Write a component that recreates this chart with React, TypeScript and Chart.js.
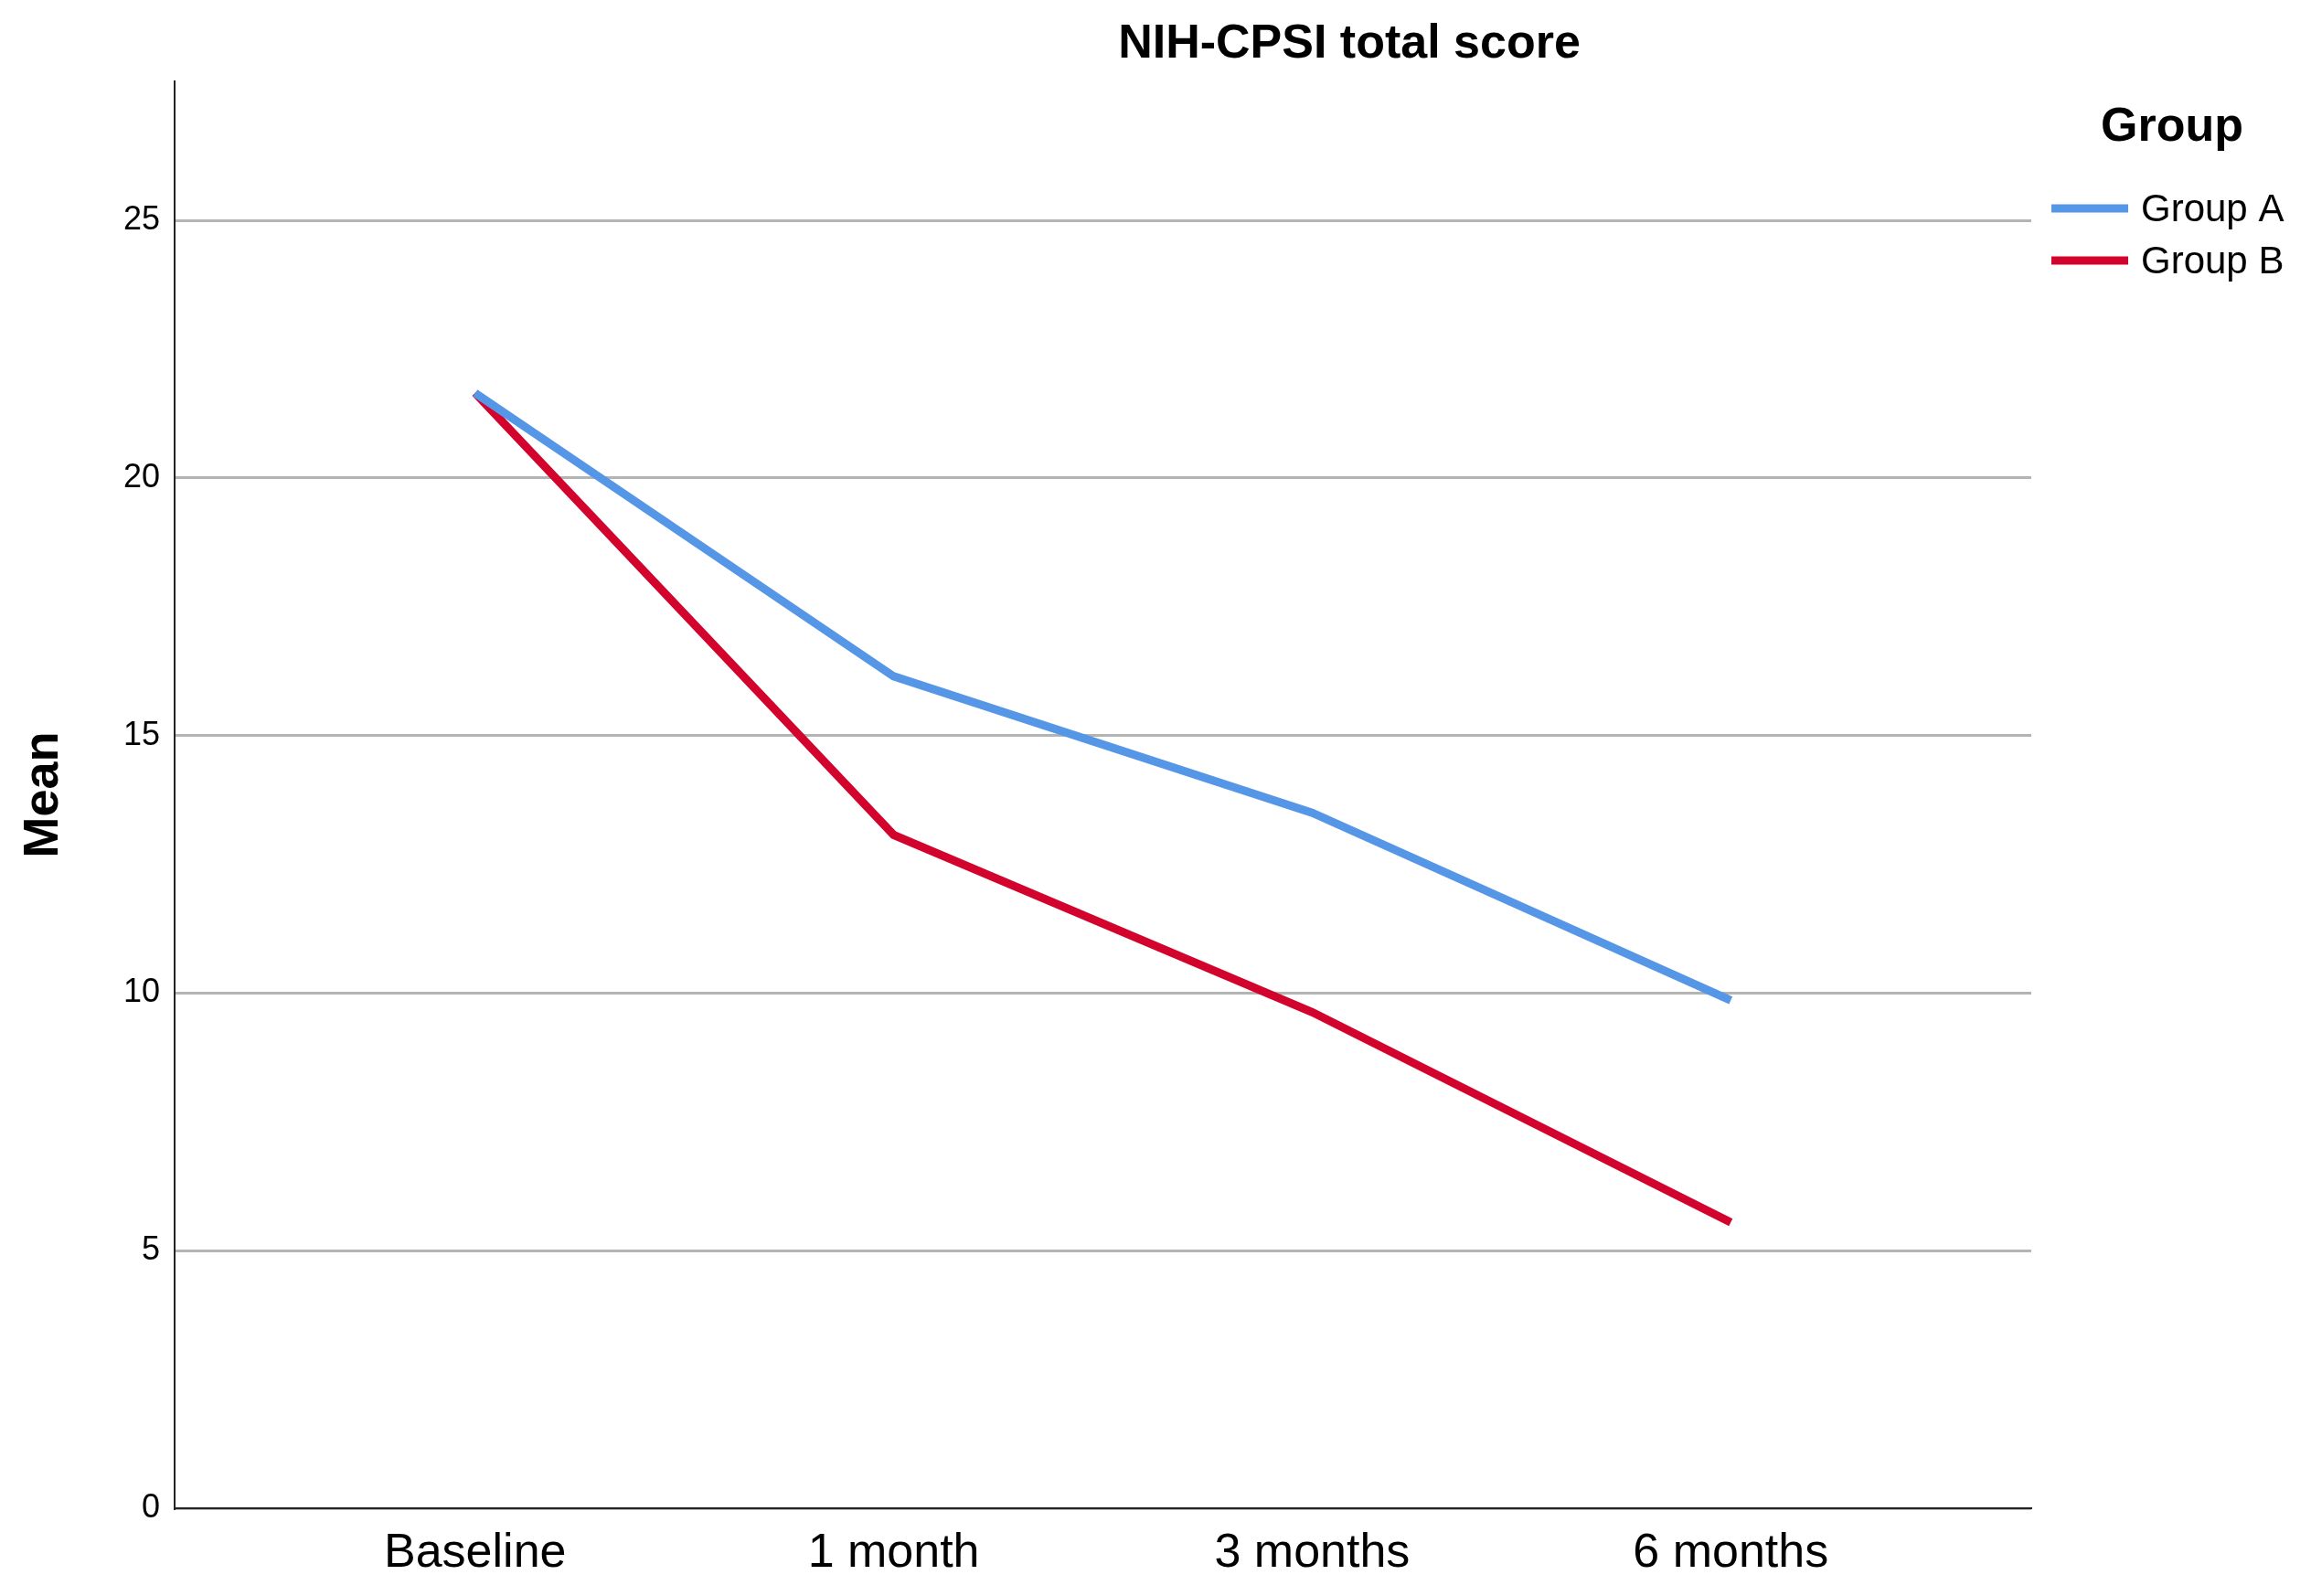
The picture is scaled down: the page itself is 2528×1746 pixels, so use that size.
import React, { useEffect, useRef } from "react";
import { Chart, registerables } from "chart.js";
Chart.register(...registerables);

const categories = ["Baseline", "1 month", "3 months", "6 months"];
const groupA = [21.65, 16.15, 13.5, 9.86];
const groupB = [21.65, 13.07, 9.63, 5.55];
const seriesNames = ["Group A", "Group B"];
const colors = ["#5596E6", "#D2042D"];

export default function App() {
  const ref = useRef<HTMLCanvasElement>(null);
  useEffect(() => {
    const overlay = {
      id: "overlay",
      afterDraw(chart: any) {
        const c = chart.ctx;
        c.save();
        c.fillStyle = "#000";
        c.font = "bold 52px Arial, 'Liberation Sans'";
        c.textAlign = "center";
        c.textBaseline = "middle";
        c.fillText("NIH-CPSI total score", 1476, 49);
        c.fillText("Group", 2376, 140);
        c.font = "42px Arial, 'Liberation Sans'";
        c.textAlign = "left";
        seriesNames.forEach((n, i) => {
          const y = 228 + i * 57;
          c.strokeStyle = colors[i];
          c.lineWidth = 9;
          c.beginPath();
          c.moveTo(2244, y);
          c.lineTo(2328, y);
          c.stroke();
          c.fillText(n, 2342, y + 2);
        });
        c.restore();
      },
    };
    const chart = new Chart(ref.current!, {
      type: "line",
      data: {
        datasets: [
          { label: seriesNames[0], data: groupA.map((v, i) => ({ x: i, y: v })), borderColor: colors[0], borderWidth: 9, pointRadius: 0, tension: 0 },
          { label: seriesNames[1], data: groupB.map((v, i) => ({ x: i, y: v })), borderColor: colors[1], borderWidth: 9, pointRadius: 0, tension: 0 },
        ],
      },
      options: {
        animation: false,
        responsive: false,
        layout: { padding: { top: 89, right: 306, left: 0, bottom: 0 } },
        plugins: { legend: { display: false }, tooltip: { enabled: false } },
        scales: {
          x: {
            type: "linear",
            min: -0.718,
            max: 3.718,
            afterBuildTicks: (s: any) => { s.ticks = categories.map((_, i) => ({ value: i })); },
            afterFit: (s: any) => { s.height = 96; },
            ticks: { callback: (v: any) => categories[v] ?? "", color: "#000", font: { size: 52, family: "Arial, 'Liberation Sans'" }, padding: 18, maxRotation: 0 },
            grid: { display: false, drawTicks: false },
            border: { color: "#222", width: 2 },
          },
          y: {
            min: 0,
            max: 27.7,
            afterBuildTicks: (s: any) => { s.ticks = [0, 5, 10, 15, 20, 25].map((v) => ({ value: v })); },
            afterFit: (s: any) => { s.width = 191; },
            ticks: { color: "#000", font: { size: 36, family: "Arial, 'Liberation Sans'" }, padding: 16 },
            grid: { color: "#B4B4B4", lineWidth: 3, drawTicks: false },
            border: { color: "#222", width: 2 },
            title: { display: true, text: "Mean", color: "#000", font: { size: 54, weight: "bold", family: "Arial, 'Liberation Sans'" }, padding: { top: 16, bottom: 0 } },
          },
        },
      },
      plugins: [overlay],
    } as any);
    return () => chart.destroy();
  }, []);
  return <canvas ref={ref} width={2528} height={1746} style={{ position: "absolute", left: 0, top: 0, background: "#fff" }} />;
}
